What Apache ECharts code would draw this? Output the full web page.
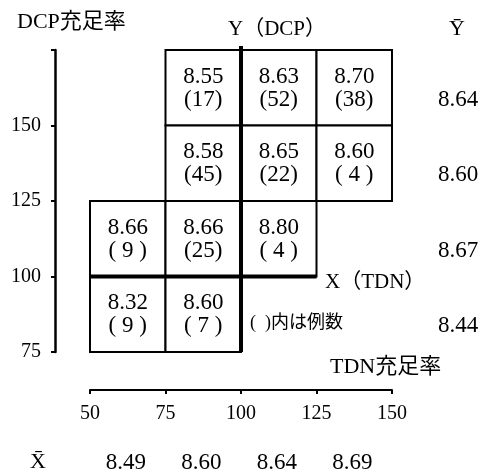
<!DOCTYPE html>
<html><head><meta charset="utf-8">
<script src="https://cdn.jsdelivr.net/npm/echarts@6/dist/echarts.min.js"></script>
<style>html,body{margin:0;padding:0;background:#fff}#c{width:482px;height:471px}</style>
</head><body><div id="c"></div>
<script>
// TDN (x) and DCP (y) bands, width 25
const BIN = 25;
const xTicks = [50, 75, 100, 125, 150];
const yTicks = [75, 100, 125, 150];
// cells: lower-left corner of each band, mean Y and count
const cellX = [75, 100, 125, 75, 100, 125, 50, 75, 100, 50, 75];
const cellY = [150, 150, 150, 125, 125, 125, 100, 100, 100, 75, 75];
const cellMean = [8.55, 8.63, 8.70, 8.58, 8.65, 8.60, 8.66, 8.66, 8.80, 8.32, 8.60];
const cellCount = [17, 52, 38, 45, 22, 4, 9, 25, 4, 9, 7];
// row means (Ȳ) by DCP band
const rowBands = [150, 125, 100, 75];
const rowMeans = [8.64, 8.60, 8.67, 8.44];
// column means (X̄) by TDN band
const colBands = [50, 75, 100, 125];
const colMeans = [8.49, 8.60, 8.64, 8.69];
// reference values (thick division lines)
const xRef = 100, yRef = 100;

const SERIF = '"Liberation Serif","Noto Sans CJK JP"';
const cellData = cellX.map((x, i) => [x, cellY[i], cellMean[i], cellCount[i]]);
const rowData = rowBands.map((y, i) => [y, rowMeans[i]]);
const colData = colBands.map((x, i) => [x, colMeans[i]]);

function fmtCount(c) { return c < 10 ? '( ' + c + ' )' : '(' + c + ')'; }

const chart = echarts.init(document.getElementById('c'), null, {renderer: 'canvas'});
chart.setOption({
  animation: false,
  backgroundColor: '#fff',
  grid: {left: 90, top: 50, width: 302, height: 302, containLabel: false},
  xAxis: {
    type: 'value', min: 50, max: 150, interval: 25, offset: 38,
    axisLine: {show: true, lineStyle: {color: '#000', width: 2}},
    axisTick: {show: true, length: 4, inside: false, lineStyle: {color: '#000', width: 2}},
    axisLabel: {color: '#000', fontSize: 20, fontFamily: 'Liberation Serif', margin: 14},
    splitLine: {show: false}
  },
  yAxis: {
    type: 'value', min: 75, max: 175, interval: 25, offset: 35,
    axisLine: {show: true, lineStyle: {color: '#000', width: 2.5}},
    axisTick: {show: true, length: 4, lineStyle: {color: '#000', width: 2}},
    axisLabel: {color: '#000', fontSize: 20, fontFamily: 'Liberation Serif', margin: 14,
      formatter: v => yTicks.indexOf(v) >= 0 ? String(v) : ''},
    splitLine: {show: false}
  },
  series: [
    {
      type: 'custom', data: cellData, z: 2, clip: false,
      renderItem: function (params, api) {
        const x0 = api.value(0), y0 = api.value(1);
        const p0 = api.coord([x0, y0 + BIN]);
        const p1 = api.coord([x0 + BIN, y0]);
        const cx = (p0[0] + p1[0]) / 2, cy = (p0[1] + p1[1]) / 2;
        const font = '23px ' + SERIF;
        return {type: 'group', children: [
          {type: 'rect', shape: {x: p0[0], y: p0[1], width: p1[0] - p0[0], height: p1[1] - p0[1]},
           style: {fill: '#fff', stroke: '#000', lineWidth: 2}},
          {type: 'text', x: cx, y: cy - 11, style: {text: api.value(2).toFixed(2), font: font, fill: '#000', align: 'center', verticalAlign: 'middle'}},
          {type: 'text', x: cx, y: cy + 12, style: {text: fmtCount(api.value(3)), font: font, fill: '#000', align: 'center', verticalAlign: 'middle'}}
        ]};
      }
    },
    {
      type: 'line', data: [[xRef, 75], [xRef, 176.3]], symbol: 'none', z: 5, clip: false,
      lineStyle: {color: '#000', width: 4}
    },
    {
      type: 'line', data: [[50, yRef], [125, yRef]], symbol: 'none', z: 5, clip: false,
      lineStyle: {color: '#000', width: 4}
    },
    {
      type: 'custom', data: rowData, clip: false, z: 3,
      renderItem: function (params, api) {
        const p = api.coord([150, api.value(0) + BIN / 2]);
        return {type: 'text', x: 458, y: p[1] + 12,
          style: {text: api.value(1).toFixed(2), font: '23px ' + SERIF, fill: '#000', align: 'center', verticalAlign: 'middle'}};
      }
    },
    {
      type: 'custom', data: colData, clip: false, z: 3,
      renderItem: function (params, api) {
        const p = api.coord([api.value(0) + BIN / 2, 75]);
        return {type: 'text', x: p[0] - 2, y: 463,
          style: {text: api.value(1).toFixed(2), font: '23px ' + SERIF, fill: '#000', align: 'center', verticalAlign: 'middle'}};
      }
    }
  ],
  graphic: [
    {type: 'text', left: 17, top: 11, style: {text: 'DCP充足率', font: '22px ' + SERIF, fill: '#000'}},
    {type: 'text', left: 228, top: 19, style: {text: 'Y（DCP）', font: '21px ' + SERIF, fill: '#000'}},
    {type: 'text', left: 449, top: 18, style: {text: 'Ȳ', font: '22px ' + SERIF, fill: '#000'}},
    {type: 'text', left: 325, top: 272, style: {text: 'X（TDN）', font: '21px ' + SERIF, fill: '#000'}},
    {type: 'text', left: 250, top: 314, style: {text: '(  )内は例数', font: '18px ' + SERIF, fill: '#000'}},
    {type: 'text', left: 330, top: 356, style: {text: 'TDN充足率', font: '22px ' + SERIF, fill: '#000'}},
    {type: 'text', left: 30, top: 451, style: {text: 'X̄', font: '22px ' + SERIF, fill: '#000'}}
  ]
});
</script></body></html>
